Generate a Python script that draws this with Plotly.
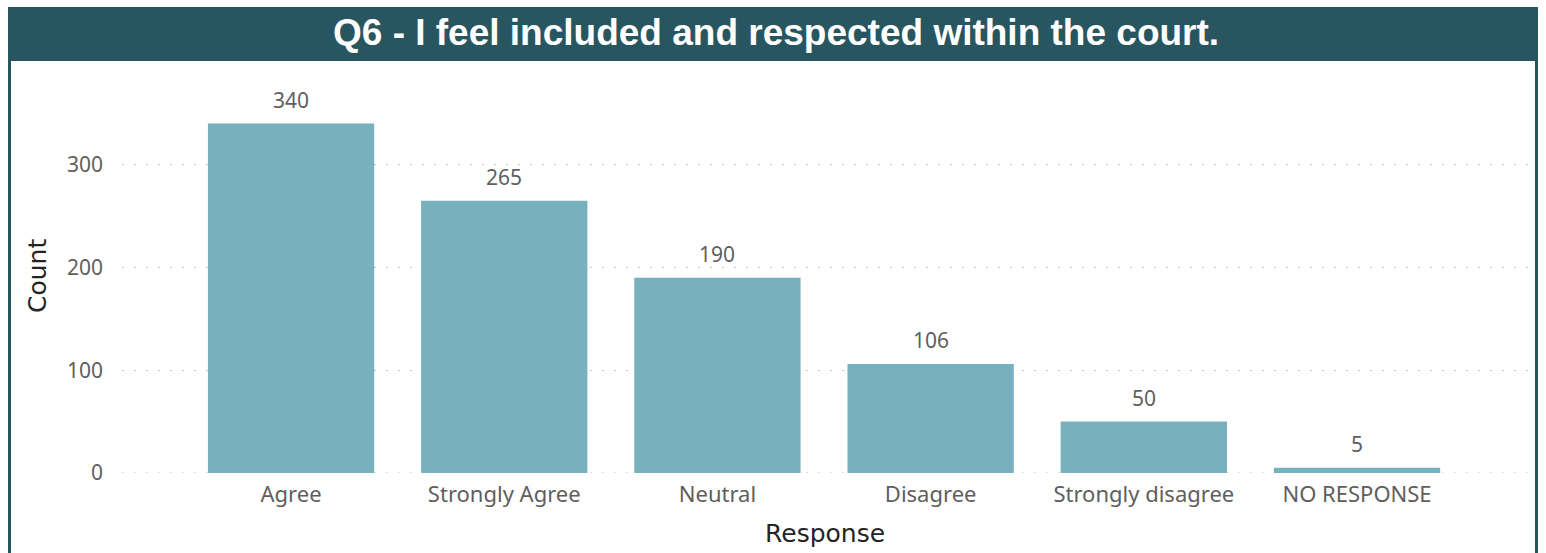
import plotly.graph_objects as go

# Survey responses for Q6
responses = ["Agree", "Strongly Agree", "Neutral", "Disagree", "Strongly disagree", "NO RESPONSE"]
counts = [340, 265, 190, 106, 50, 5]
y_ticks = [0, 100, 200, 300]

W, H = 1546, 553
# plot area in pixels
PL, PR, PT, PB = 122, 1528, 103, 473
PW, PH = PR - PL, PB - PT


def px_x(p):
    return (p - PL) / PW


def px_y(q):
    return (PB - q) / PH


BAR = "#77B0BF"
HEADER = "#285660"
GRID = "#C4C4C4"
DOTS = "2px,10px"
LABEL_FONT = "Segoe UI, Noto Sans, Open Sans, sans-serif"
TITLE_FONT = "DejaVu Sans, sans-serif"

fig = go.Figure(
    go.Bar(
        x=responses,
        y=counts,
        marker=dict(color=BAR, line=dict(width=0)),
        hoverinfo="x+y",
    )
)

# value labels above each bar
for r, c in zip(responses, counts):
    fig.add_annotation(
        x=r, y=c, xref="x", yref="y", text=str(c), showarrow=False,
        yanchor="bottom", yshift=8,
        font=dict(family=LABEL_FONT, size=21, color="#5f5f5f"),
    )

# dotted baseline at zero, drawn beneath the bars
fig.add_shape(type="line", xref="paper", yref="y", x0=0, x1=1, y0=0, y1=0,
              line=dict(color=GRID, width=1, dash=DOTS), layer="below")

# header band and frame
fig.add_shape(type="rect", xref="paper", yref="paper",
              x0=px_x(8), x1=px_x(1538), y0=px_y(61), y1=px_y(7),
              fillcolor=HEADER, line=dict(width=0), layer="below")
fig.add_shape(type="line", xref="paper", yref="paper",
              x0=px_x(9.5), x1=px_x(9.5), y0=px_y(61), y1=px_y(560),
              line=dict(color=HEADER, width=3))
fig.add_shape(type="line", xref="paper", yref="paper",
              x0=px_x(1536.5), x1=px_x(1536.5), y0=px_y(61), y1=px_y(560),
              line=dict(color=HEADER, width=3))

fig.add_annotation(
    x=px_x(776), y=px_y(33), xref="paper", yref="paper",
    text="<b>Q6 - I feel included and respected within the court.</b>",
    showarrow=False, xanchor="center", yanchor="middle",
    font=dict(family="Liberation Sans, Arial, sans-serif", size=37, color="white"),
)

# axis titles
fig.add_annotation(
    x=px_x(37), y=px_y(276), xref="paper", yref="paper", text="Count",
    textangle=-90, showarrow=False, xanchor="center", yanchor="middle",
    font=dict(family=TITLE_FONT, size=25, color="#252423"),
)
fig.add_annotation(
    x=px_x(825), y=px_y(533), xref="paper", yref="paper", text="Response",
    showarrow=False, xanchor="center", yanchor="middle",
    font=dict(family=TITLE_FONT, size=25, color="#252423"),
)

fig.update_layout(
    width=W, height=H,
    margin=dict(l=PL, r=W - PR, t=PT, b=H - PB, pad=0),
    paper_bgcolor="white", plot_bgcolor="white",
    bargap=0.22,
    showlegend=False,
    font=dict(family=LABEL_FONT, color="#605E5C"),
)
fig.update_xaxes(
    range=[-0.793, 5.802], showgrid=False, zeroline=False, showline=False,
    ticks="", tickfont=dict(family=LABEL_FONT, size=22, color="#605E5C"),
    ticklabelstandoff=6,
)
fig.update_yaxes(
    range=[0, 360], tickvals=y_ticks, showgrid=True, gridcolor=GRID,
    gridwidth=1, griddash=DOTS, zeroline=False, showline=False,
    ticks="", tickfont=dict(family=LABEL_FONT, size=21, color="#605E5C"),
    ticklabelstandoff=18,
)

fig.write_html("out.html")
